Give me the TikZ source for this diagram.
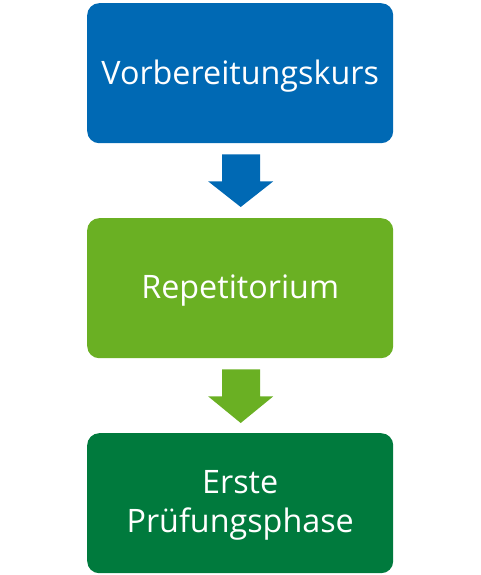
\documentclass[tikz,border=0pt]{standalone}
\usepackage{fontspec}
\setmainfont{Open Sans}
\usetikzlibrary{calc}
\definecolor{cblue}{HTML}{0069B4}
\definecolor{clgreen}{HTML}{6AB023}
\definecolor{cdgreen}{HTML}{007A3D}
\begin{document}
\begin{tikzpicture}[x=1pt,y=-1pt,
  stagebox/.style={rounded corners=12pt,minimum width=306pt,minimum height=140pt,inner sep=0pt,text=white,font=\fontsize{32.3}{39}\selectfont,align=center,anchor=north west},
  stagetext/.style={yshift=-2.5pt}]
\useasboundingbox (0,0) rectangle (480,575);
\node[stagebox,fill=cblue] (b1) at (87,3) {};
\node[stagebox,fill=clgreen] (b2) at (87,218) {};
\node[stagebox,fill=cdgreen] (b3) at (87,433) {};
\node[stagebox,anchor=center,stagetext] (t1) at (b1.center) {Vorbereitungskurs};
\node[stagebox,anchor=center,stagetext] (t2) at (b2.center) {Repetitorium};
\node[stagebox,anchor=center,stagetext] (t3) at (b3.center) {Erste\\Prüfungsphase};
\fill[cblue] ($(b1.south)+(-18,11)$) -- ++(38,0) -- ++(0,27) -- ++(13,0) -- ($(b2.north)+(0.5,-11)$) -- ($(b1.south)+(-32,38)$) -- ++(14,0) -- cycle;
\fill[clgreen] ($(b2.south)+(-18,11)$) -- ++(38,0) -- ++(0,27) -- ++(13,0) -- ($(b3.north)+(0.5,-10)$) -- ($(b2.south)+(-32,38)$) -- ++(14,0) -- cycle;
\end{tikzpicture}
\end{document}
